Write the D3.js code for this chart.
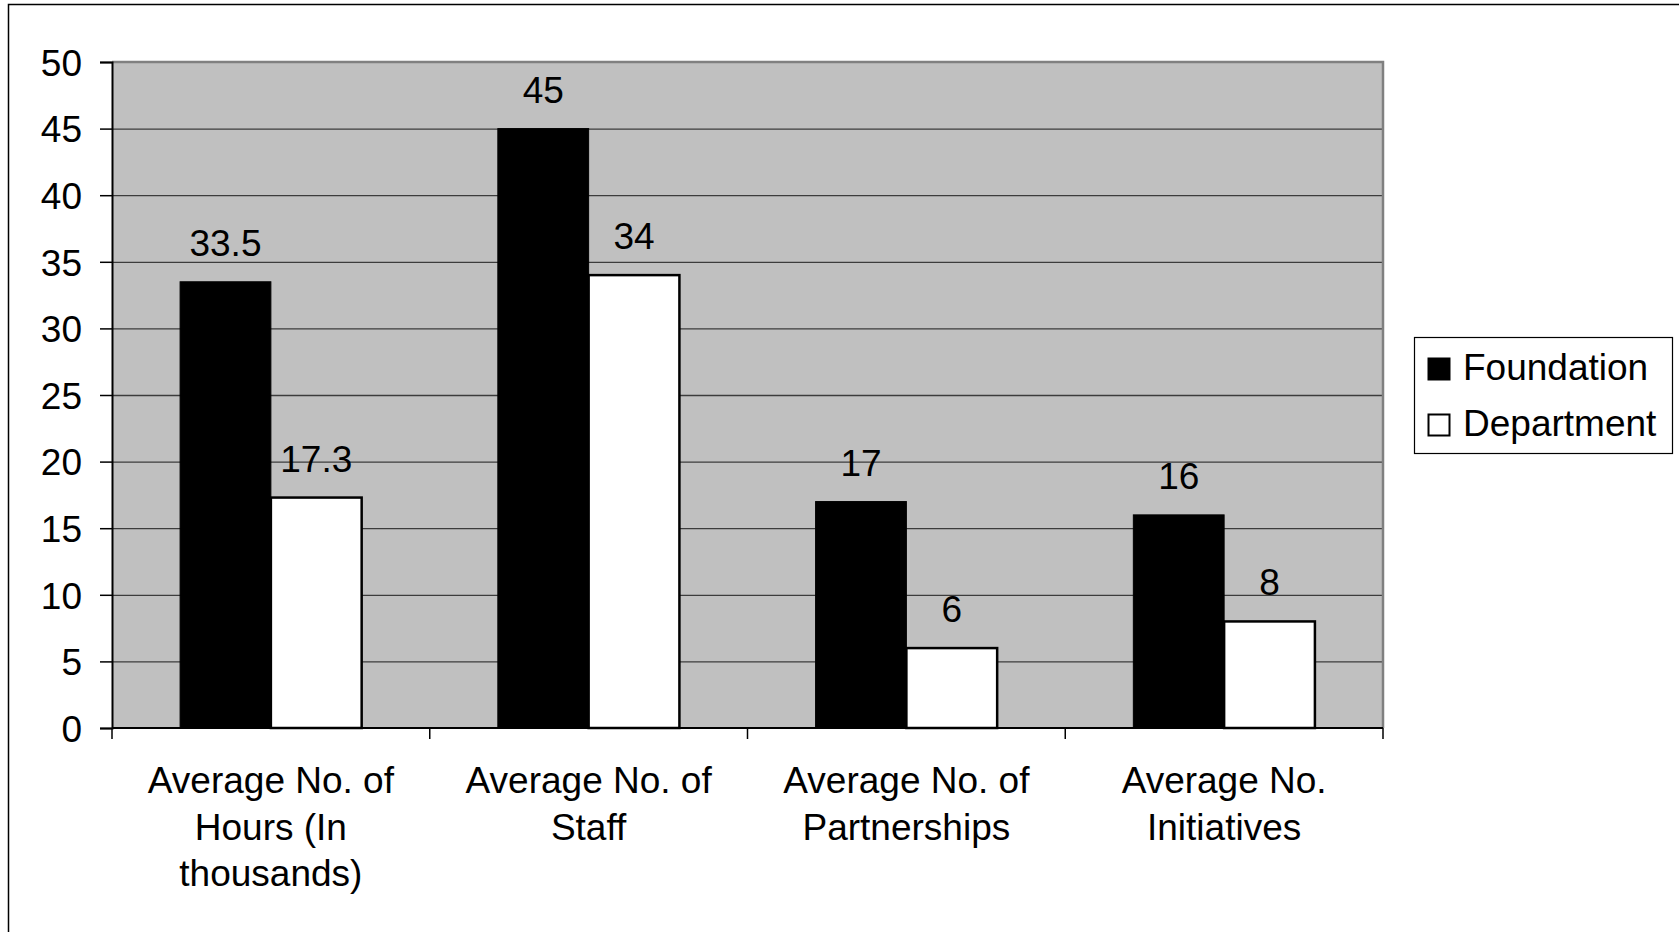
<!DOCTYPE html>
<html>
<head>
<meta charset="utf-8">
<script src="https://cdn.jsdelivr.net/npm/d3@7"></script>
<style>
  body { margin: 0; background: #fff; }
  text { font-family: "Liberation Sans", Arial, sans-serif; fill: #000; }
</style>
</head>
<body>
<div class="chart"></div>
<script>
// data
var categories = ["Hours", "Staff", "Partnerships", "Initiatives"];
var categoryLines = [
  ["Average No. of", "Hours (In", "thousands)"],
  ["Average No. of", "Staff"],
  ["Average No. of", "Partnerships"],
  ["Average No.", "Initiatives"]
];
var seriesNames = ["Foundation", "Department"];
var foundation = [33.5, 45, 17, 16];
var department = [17.3, 34, 6, 8];
var yTicks = [0, 5, 10, 15, 20, 25, 30, 35, 40, 45, 50];

var width = 1679,
    height = 932,
    fontSize = 37;

var plot = { left: 112, right: 1383, top: 62, bottom: 728 };

var svg = d3.select(".chart").append("svg")
    .attr("width", width)
    .attr("height", height);

// outer frame (only left and top edges show)
svg.append("rect")
    .attr("x", 8.5).attr("y", 4.5)
    .attr("width", width + 50).attr("height", height + 50)
    .attr("fill", "none")
    .attr("stroke", "#000")
    .attr("stroke-width", 1.5);

var x = d3.scaleBand()
    .domain(categories)
    .range([plot.left, plot.right])
    .paddingInner(1.5 / 3.5)
    .paddingOuter(0.75 / 3.5);

var xSeries = d3.scaleBand()
    .domain(seriesNames)
    .range([0, x.bandwidth()]);

var y = d3.scaleLinear()
    .domain([0, 50])
    .range([plot.bottom, plot.top]);

// plot background
svg.append("rect")
    .attr("x", plot.left).attr("y", plot.top)
    .attr("width", plot.right - plot.left)
    .attr("height", plot.bottom - plot.top)
    .attr("fill", "#c0c0c0");

// gridlines
svg.append("g")
    .attr("transform", "translate(" + plot.left + ",0)")
    .call(d3.axisLeft(y).tickValues(yTicks.slice(1, -1)).tickSize(-(plot.right - plot.left)).tickFormat(""))
    .call(function(g) {
      g.select(".domain").remove();
      g.selectAll("line").attr("stroke", "#3c3c3c").attr("stroke-width", 1.3);
    });

// top and right border
svg.append("path")
    .attr("d", "M" + plot.left + "," + plot.top + "H" + plot.right + "V" + plot.bottom)
    .attr("fill", "none")
    .attr("stroke", "#808080")
    .attr("stroke-width", 2.5);

// bars
var groups = svg.selectAll("g.cat")
    .data(categories)
  .enter().append("g")
    .attr("class", "cat")
    .attr("transform", function(d) { return "translate(" + x(d) + ",0)"; });

var barData = function(d, i) {
  return [
    { name: "Foundation", value: foundation[i] },
    { name: "Department", value: department[i] }
  ];
};

groups.selectAll("rect")
    .data(barData)
  .enter().append("rect")
    .attr("x", function(d) { return xSeries(d.name); })
    .attr("y", function(d) { return y(d.value); })
    .attr("width", xSeries.bandwidth())
    .attr("height", function(d) { return y(0) - y(d.value); })
    .attr("fill", function(d) { return d.name == "Foundation" ? "#000" : "#fff"; })
    .attr("stroke", "#000")
    .attr("stroke-width", function(d) { return d.name == "Foundation" ? 1 : 2.5; });

groups.selectAll("text.val")
    .data(barData)
  .enter().append("text")
    .attr("class", "val")
    .attr("x", function(d) { return xSeries(d.name) + xSeries.bandwidth() / 2; })
    .attr("y", function(d) { return y(d.value) - 26; })
    .attr("text-anchor", "middle")
    .attr("font-size", fontSize)
    .text(function(d) { return d.value; });

// y axis
svg.append("g")
    .attr("transform", "translate(" + plot.left + ",0)")
    .call(d3.axisLeft(y).tickValues(yTicks).tickSize(12).tickPadding(18))
    .call(function(g) {
      g.select(".domain").attr("stroke", "#000").attr("stroke-width", 2);
      g.selectAll("line").attr("stroke", "#000").attr("stroke-width", 1.5);
      g.selectAll("text")
        .attr("font-size", fontSize)
        .attr("font-family", "Liberation Sans, Arial, sans-serif")
        .attr("fill", "#000")
        .attr("dy", "0.36em");
    });

// x axis line and ticks at category edges
var step = x.step();
var edges = categories.map(function(c) { return x(c) - (step - x.bandwidth()) / 2; });
edges.push(plot.right);

svg.append("line")
    .attr("x1", plot.left).attr("x2", plot.right)
    .attr("y1", plot.bottom).attr("y2", plot.bottom)
    .attr("stroke", "#000").attr("stroke-width", 2);

svg.selectAll("line.xtick")
    .data(edges)
  .enter().append("line")
    .attr("class", "xtick")
    .attr("x1", function(d) { return d; }).attr("x2", function(d) { return d; })
    .attr("y1", plot.bottom).attr("y2", plot.bottom + 11)
    .attr("stroke", "#000").attr("stroke-width", 1.5);

// category labels
var labels = svg.selectAll("text.cat")
    .data(categories)
  .enter().append("text")
    .attr("class", "cat")
    .attr("text-anchor", "middle")
    .attr("font-size", fontSize)
    .attr("transform", function(d) { return "translate(" + (x(d) + x.bandwidth() / 2) + "," + (plot.bottom + 65) + ")"; });

labels.selectAll("tspan")
    .data(function(d, i) { return categoryLines[i]; })
  .enter().append("tspan")
    .attr("x", 0)
    .attr("y", function(d, i) { return i * 46.5; })
    .text(function(d) { return d; });

// legend
var legend = svg.append("g");

legend.append("rect")
    .attr("x", 1414.5).attr("y", 337.5)
    .attr("width", 258).attr("height", 116)
    .attr("fill", "#fff")
    .attr("stroke", "#000")
    .attr("stroke-width", 1.2);

var items = legend.selectAll("g.item")
    .data(seriesNames)
  .enter().append("g")
    .attr("class", "item")
    .attr("transform", function(d, i) { return "translate(1428," + (358 + i * 56) + ")"; });

items.append("rect")
    .attr("x", 0.5).attr("y", 0.5)
    .attr("width", 21).attr("height", 21)
    .attr("fill", function(d) { return d == "Foundation" ? "#000" : "#fff"; })
    .attr("stroke", "#000")
    .attr("stroke-width", 2);

items.append("text")
    .attr("x", 35)
    .attr("y", 22)
    .attr("font-size", fontSize)
    .text(function(d) { return d; });
</script>
</body>
</html>
